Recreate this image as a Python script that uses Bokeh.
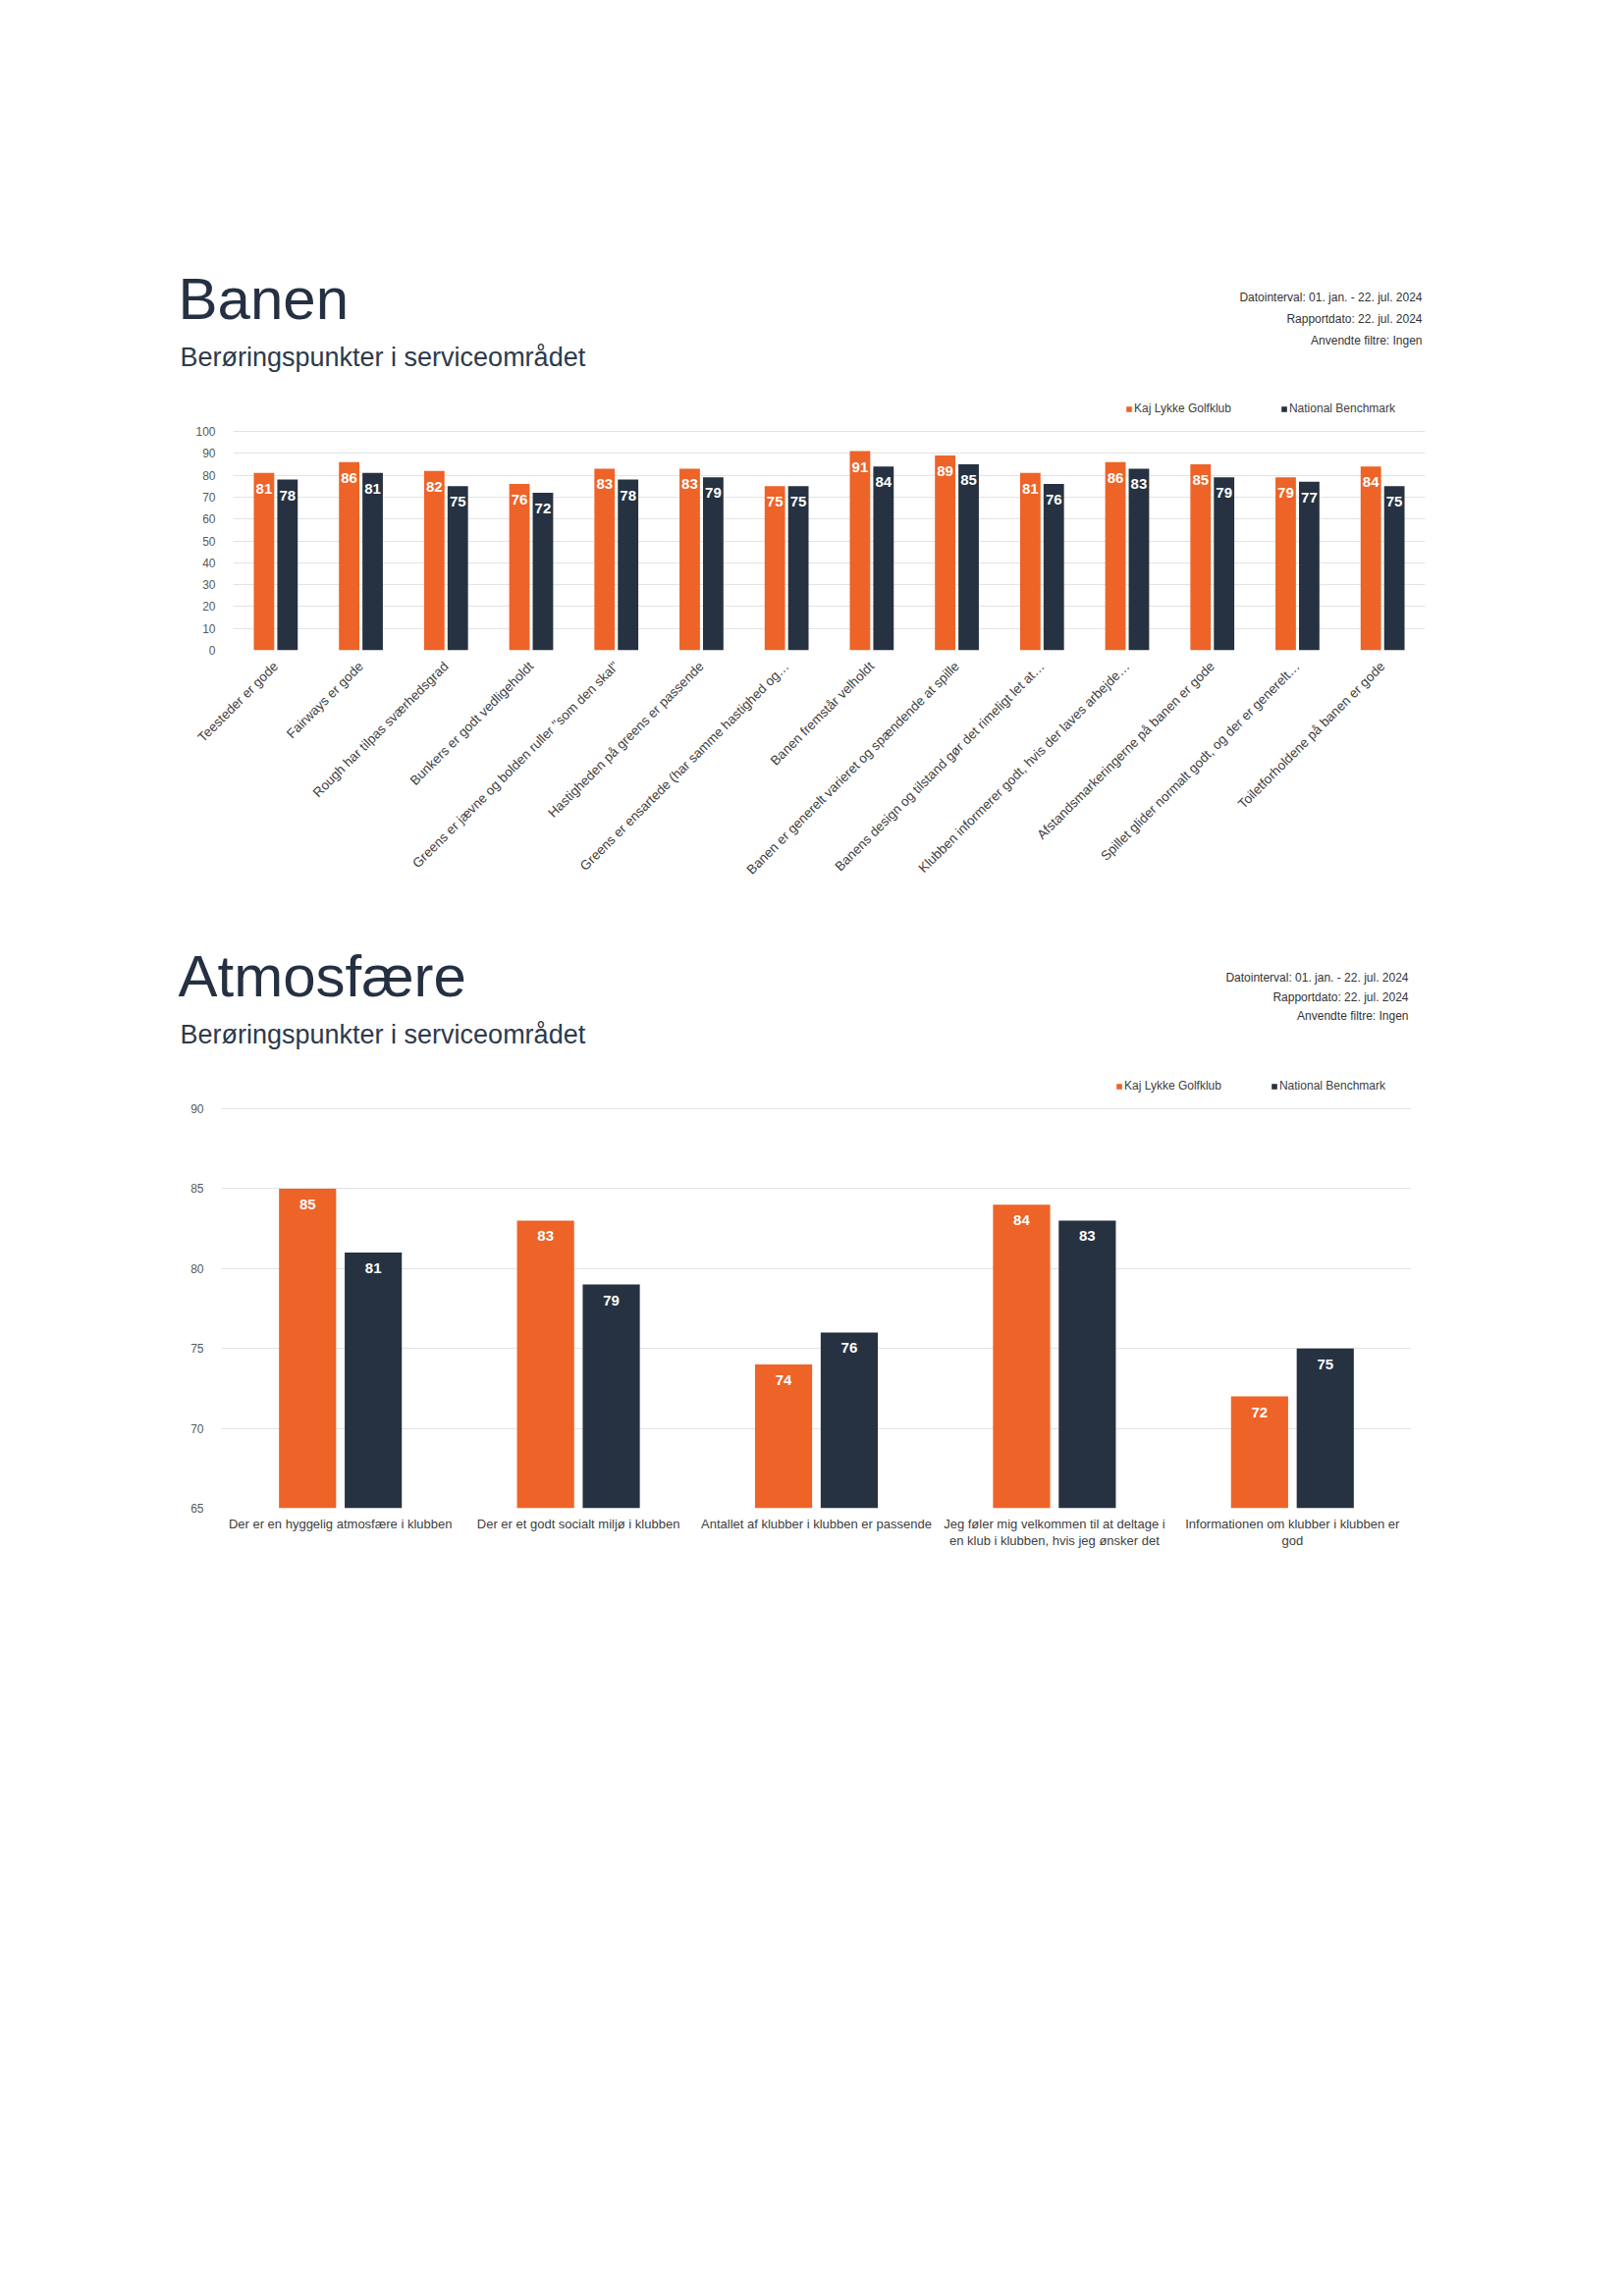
import math
from bokeh.plotting import figure
from bokeh.models import ColumnDataSource, Label, Legend, LegendItem, Range1d, FixedTicker
from bokeh.transform import dodge
from bokeh.embed import file_html
from bokeh.resources import INLINE
from bokeh.core.properties import value

# ---------------- data ----------------
series_names = ["Kaj Lykke Golfklub", "National Benchmark"]
meta_lines = ["Datointerval: 01. jan. - 22. jul. 2024",
              "Rapportdato: 22. jul. 2024",
              "Anvendte filtre: Ingen"]
subtitle_text = "Berøringspunkter i serviceområdet"

banen_title = "Banen"
banen_categories = [
    "Teesteder er gode",
    "Fairways er gode",
    "Rough har tilpas sværhedsgrad",
    "Bunkers er godt vedligeholdt",
    "Greens er jævne og bolden ruller \"som den skal\"",
    "Hastigheden på greens er passende",
    "Greens er ensartede (har samme hastighed og…",
    "Banen fremstår velholdt",
    "Banen er generelt varieret og spændende at spille",
    "Banens design og tilstand gør det rimeligt let at…",
    "Klubben informerer godt, hvis der laves arbejde…",
    "Afstandsmarkeringerne på banen er gode",
    "Spillet glider normalt godt, og der er generelt…",
    "Toiletforholdene på banen er gode",
]
banen_klub = [81, 86, 82, 76, 83, 83, 75, 91, 89, 81, 86, 85, 79, 84]
banen_bench = [78, 81, 75, 72, 78, 79, 75, 84, 85, 76, 83, 79, 77, 75]
banen_yticks = [0, 10, 20, 30, 40, 50, 60, 70, 80, 90, 100]

atm_title = "Atmosfære"
atm_categories = [
    "Der er en hyggelig atmosfære i klubben",
    "Der er et godt socialt miljø i klubben",
    "Antallet af klubber i klubben er passende",
    "Jeg føler mig velkommen til at deltage i\nen klub i klubben, hvis jeg ønsker det",
    "Informationen om klubber i klubben er\ngod",
]
atm_klub = [85, 83, 74, 84, 72]
atm_bench = [81, 79, 76, 83, 75]
atm_yticks = [65, 70, 75, 80, 85, 90]

# ---------------- style ----------------
ORANGE = "#EE6327"
NAVY = "#263241"
FONT = "Liberation Sans"
TITLE_COLOR = "#253142"
SUB_COLOR = "#2E3A4A"
META_COLOR = "#333333"
GRID = "#E3E3E3"
PAGE_W = 1630


def make_chart(cats, klub, bench, yticks, frame, fig_top, fig_bottom, legend_pos,
               title, title_pos, sub_pos, meta_pos, rotate, xfont, xstandoff,
               bar_w=0.24, off=0.138):
    # frame = (left, top, right, bottom) of the value area in page pixels
    L, T, R, B = frame
    y0, y1 = yticks[0], yticks[-1]
    n = len(cats)
    ppu = (B - T) / (y1 - y0)          # pixels per value unit
    top_ext = legend_pos[1] - 14        # frame extends up to just above the legend
    y_end = y1 + (T - top_ext) / ppu

    def px_x(px):
        return (px - L) / (R - L) * n

    def py_y(py):
        return y0 + (B - py) / ppu

    p = figure(width=PAGE_W, height=fig_bottom - fig_top, x_range=cats,
               y_range=Range1d(y0, y_end), output_backend="svg",
               toolbar_location=None)
    p.min_border_left = L
    p.min_border_right = PAGE_W - R
    p.min_border_top = top_ext - fig_top
    p.min_border_bottom = fig_bottom - B
    p.outline_line_color = None

    src = ColumnDataSource(dict(cat=cats, klub=klub, bench=bench,
                                klub_txt=[str(v) for v in klub],
                                bench_txt=[str(v) for v in bench]))
    r1 = p.vbar(x=dodge("cat", -off, range=p.x_range), top="klub", bottom=y0,
                width=bar_w, source=src, fill_color=ORANGE, line_color=None)
    r2 = p.vbar(x=dodge("cat", off, range=p.x_range), top="bench", bottom=y0,
                width=bar_w, source=src, fill_color=NAVY, line_color=None)
    for col, txt, dx in (("klub", "klub_txt", -off), ("bench", "bench_txt", off)):
        p.text(x=dodge("cat", dx, range=p.x_range), y=col, text=txt, source=src,
               text_align="center", text_baseline="middle", y_offset=16,
               text_color="white", text_font=value(FONT), text_font_style="bold",
               text_font_size="15px")

    p.yaxis.ticker = FixedTicker(ticks=yticks)
    p.yaxis.axis_line_color = None
    p.yaxis.major_tick_line_color = None
    p.yaxis.minor_tick_line_color = None
    p.yaxis.major_label_standoff = 12
    p.yaxis.major_label_text_font = FONT
    p.yaxis.major_label_text_font_size = "12px"
    p.yaxis.major_label_text_color = "#595959"
    p.xaxis.axis_line_color = None
    p.xaxis.major_tick_line_color = None
    p.xaxis.minor_tick_line_color = None
    p.xaxis.major_tick_out = 0
    p.xaxis.major_label_text_font = FONT
    p.xaxis.major_label_text_font_size = xfont
    p.xaxis.major_label_text_color = "#404040"
    p.xaxis.major_label_text_line_height = 1.15
    p.xaxis.major_label_standoff = xstandoff
    if rotate:
        p.xaxis.major_label_orientation = math.pi / 4
    p.xgrid.grid_line_color = None
    p.ygrid.grid_line_color = GRID

    # legend (inside the extended frame, above the top gridline)
    lx, ly = legend_pos
    leg_h = 12
    legend = Legend(items=[LegendItem(label=series_names[0], renderers=[r1]),
                           LegendItem(label=series_names[1], renderers=[r2])],
                    location=(lx - L, (B - ly) - leg_h / 2),
                    orientation="horizontal", border_line_color=None,
                    background_fill_alpha=0, padding=0, margin=0, spacing=50,
                    glyph_width=7, glyph_height=7, label_standoff=2,
                    label_height=leg_h, label_text_font=FONT,
                    label_text_font_size="12px", label_text_color="#404040")
    p.add_layout(legend)

    # headings, placed in the top panel (not clipped by the frame)
    tx, ty = title_pos
    p.add_layout(Label(x=px_x(tx), y=py_y(ty), text=title, text_font=FONT,
                       text_font_size="60px", text_color=TITLE_COLOR,
                       text_baseline="middle", text_align="left"), "above")
    sx, sy = sub_pos
    p.add_layout(Label(x=px_x(sx), y=py_y(sy), text=subtitle_text, text_font=FONT,
                       text_font_size="27px", text_color=SUB_COLOR,
                       text_baseline="middle", text_align="left"), "above")
    mx, mys = meta_pos
    for line, my in zip(meta_lines, mys):
        p.add_layout(Label(x=px_x(mx), y=py_y(my), text=line, text_font=FONT,
                           text_font_size="12px", text_color=META_COLOR,
                           text_baseline="middle", text_align="right"), "above")
    return p


C1_TOP, C1_BOT = 0, 922
C2_BOT = 1610

chart1 = make_chart(banen_categories, banen_klub, banen_bench, banen_yticks,
                    frame=(237, 439, 1451, 662), fig_top=C1_TOP, fig_bottom=C1_BOT,
                    legend_pos=(1146, 417), title=banen_title,
                    title_pos=(181, 304), sub_pos=(183, 363),
                    meta_pos=(1448, (302, 324, 346)), rotate=True, xfont="13.5px",
                    xstandoff=14)
chart2 = make_chart(atm_categories, atm_klub, atm_bench, atm_yticks,
                    frame=(225, 1129, 1437, 1536), fig_top=C1_BOT, fig_bottom=C2_BOT,
                    legend_pos=(1136, 1107), title=atm_title,
                    title_pos=(181, 994), sub_pos=(183, 1053),
                    meta_pos=(1434, (995, 1015, 1034)), rotate=False, xfont="13px",
                    xstandoff=8)

open("out.html", "w").write(file_html([chart1, chart2], INLINE))
